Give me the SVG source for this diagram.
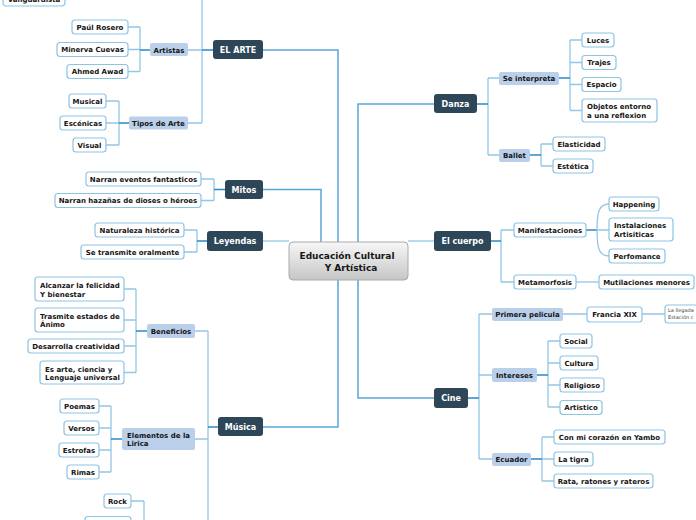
<svg xmlns="http://www.w3.org/2000/svg" width="696" height="520" viewBox="0 0 696 520">
<defs>
<linearGradient id="cg" x1="0" y1="0" x2="0" y2="1"><stop offset="0" stop-color="#f7f7f7"/><stop offset="1" stop-color="#c6c6c6"/></linearGradient>
</defs>
<style>
text{font-family:"DejaVu Sans","Verdana",sans-serif;font-weight:bold;fill:#151515}
.m rect{fill:#2d4759}
.m text{fill:#fff;font-size:8px;text-anchor:middle}
.s rect{fill:#bacfe9}
.s text{font-size:7px;text-anchor:middle}
.l rect{fill:#fff;stroke:#8ec4e3;stroke-width:1.2}
.l text{font-size:7px;text-anchor:middle}
.ml text{text-anchor:start}
.c path{fill:none;stroke:#93c6e5;stroke-width:1.3}
.c path.d{stroke:#2a88c8;stroke-width:1.5}
.c path.t{stroke:#5aa6d8;stroke-width:1.5}
</style>
<rect width="696" height="520" fill="#fff"/>
<g id="connectors" class="c">
<path class="t" d="M263,189.5 H321 V242"/>
<path class="t" d="M263,50 H338 V242"/>
<path d="M263,241 H289"/>
<path class="t" d="M338,280 V427 H263"/>
<path class="t" d="M358,242 V104 H434"/>
<path d="M408,241 H434"/>
<path class="t" d="M358,280 V398 H434"/>
<path d="M202,0 V123 M188,50 H202 M188,123 H202"/>
<path class="d" d="M202,50 H213"/>
<path d="M140,27 V71.5 M128,27 H140 M128,49.5 H140 M128,71.5 H140"/>
<path class="d" d="M140,50 H150"/>
<path d="M119,101 V145 M106,101 H119 M106,123 H119 M106,145 H119"/>
<path class="d" d="M119,123 H129"/>
<path d="M214,179 V200.5 M201,179 H214 M201,200.5 H214"/>
<path class="d" d="M214,189.5 H225"/>
<path d="M197,230 V252 M184,230 H197 M184,252 H197"/>
<path class="d" d="M197,241 H207"/>
<path d="M208,331 V520 M195,331 H208 M195,439 H208"/>
<path class="d" d="M208,427 H218"/>
<path d="M136,289 V372.5 M124,289 H136 M124,320 H136 M124,346 H136 M124,372.5 H136"/>
<path class="d" d="M136,331 H147"/>
<path d="M111,406 V472 M99,406 H111 M99,428 H111 M99,450 H111 M99,472 H111"/>
<path class="d" d="M111,439 H122"/>
<path d="M144,501 V520 M131,501 H144"/>
<path d="M488,78 V155 M488,78 H499 M488,155 H499"/>
<path class="d" d="M477,104 H488"/>
<path d="M570,40 V110.5 M570,40 H582 M570,62.5 H582 M570,84.5 H582 M570,110.5 H582"/>
<path class="d" d="M559,78 H570"/>
<path d="M541,144 V166 M541,144 H553 M541,166 H553"/>
<path class="d" d="M530,155 H541"/>
<path d="M501,230 V282 M501,230 H514 M501,282 H514"/>
<path class="d" d="M491,241 H501"/>
<path class="d" d="M586,230 H597"/>
<path d="M597,230 C597,212 599,204 609,204 M597,230 H609 M597,230 C597,248 599,256 609,256"/>
<path d="M576,282 H599"/>
<path d="M479,314 V459 M479,314 H492 M479,375 H492 M479,459 H492"/>
<path class="d" d="M468,398 H479"/>
<path d="M563,314 H587 M642,314 H665"/>
<path d="M548,341 V407 M548,341 H560 M548,363 H560 M548,385 H560 M548,407 H560"/>
<path class="d" d="M537,375 H548"/>
<path d="M542,437 V481 M542,437 H554 M542,459 H554 M542,481 H554"/>
<path class="d" d="M531,459 H542"/>
</g>
<g id="center"><rect x="289" y="242" width="119" height="38" rx="4" fill="url(#cg)" stroke="#aaaaaa"/><text x="347" y="259" font-size="9" text-anchor="middle">Educación Cultural</text><text x="351" y="271" font-size="9" text-anchor="middle">Y Artística</text></g>
<g id="elarte" class="m"><rect x="213" y="40" width="50" height="19" rx="3"/><text x="238" y="53">EL ARTE</text></g>
<g id="mitos" class="m"><rect x="225" y="180" width="38" height="19" rx="3"/><text x="244" y="193">Mitos</text></g>
<g id="leyendas" class="m"><rect x="207" y="231" width="56" height="20" rx="3"/><text x="235" y="244">Leyendas</text></g>
<g id="musica" class="m"><rect x="218" y="417" width="45" height="19" rx="3"/><text x="240.5" y="430">Música</text></g>
<g id="danza" class="m"><rect x="434" y="94" width="43" height="19" rx="3"/><text x="455.5" y="107">Danza</text></g>
<g id="elcuerpo" class="m"><rect x="434" y="231" width="57" height="20" rx="3"/><text x="462.5" y="244">El cuerpo</text></g>
<g id="cine" class="m"><rect x="434" y="388" width="34" height="20" rx="3"/><text x="451" y="401">Cine</text></g>
<g id="artistas" class="s"><rect x="150" y="43" width="38" height="13" rx="2"/><text x="169" y="52.5">Artistas</text></g>
<g id="tipos" class="s"><rect x="129" y="116.5" width="59" height="13" rx="2"/><text x="158.5" y="125.5">Tipos de Arte</text></g>
<g id="beneficios" class="s"><rect x="147" y="324" width="48" height="14" rx="2"/><text x="171" y="333.5">Beneficios</text></g>
<g id="elementos" class="s ml"><rect x="122" y="428" width="73" height="22" rx="2"/><text x="127" y="438">Elementos de la</text><text x="127" y="446">Lirica</text></g>
<g id="seinterpreta" class="s"><rect x="499" y="72" width="60" height="13" rx="2"/><text x="529" y="81">Se interpreta</text></g>
<g id="ballet" class="s"><rect x="499" y="149" width="31" height="13" rx="2"/><text x="514.5" y="158">Ballet</text></g>
<g id="primera" class="s"><rect x="492" y="308" width="71" height="13" rx="2"/><text x="527.5" y="317">Primera pelicula</text></g>
<g id="intereses" class="s"><rect x="492" y="368" width="45" height="14" rx="2"/><text x="514.5" y="377.5">Intereses</text></g>
<g id="ecuador" class="s"><rect x="492" y="453" width="39" height="13" rx="2"/><text x="511.5" y="462">Ecuador</text></g>
<g id="manif" class="l"><rect x="514" y="223" width="72" height="14" rx="3"/><text x="550" y="232.5">Manifestaciones</text></g>
<g id="metam" class="l"><rect x="514" y="275" width="62" height="14" rx="3"/><text x="545" y="284.5">Metamorfosis</text></g>
<g id="vanguardista" class="l"><rect x="3" y="-8" width="62" height="14" rx="3"/><text x="34" y="2">Vanguardista</text></g>
<g id="paul" class="l"><rect x="72" y="20" width="56" height="14" rx="3"/><text x="100" y="29.5">Paúl Rosero</text></g>
<g id="minerva" class="l"><rect x="57" y="42.5" width="71" height="14" rx="3"/><text x="92.5" y="52">Minerva Cuevas</text></g>
<g id="ahmed" class="l"><rect x="67" y="64.5" width="61" height="14" rx="3"/><text x="97.5" y="74">Ahmed Awad</text></g>
<g id="musical" class="l"><rect x="69" y="94" width="37" height="14" rx="3"/><text x="87.5" y="103.5">Musical</text></g>
<g id="escenicas" class="l"><rect x="60" y="116" width="46" height="14" rx="3"/><text x="83" y="125.5">Escénicas</text></g>
<g id="visual" class="l"><rect x="73" y="138" width="33" height="14" rx="3"/><text x="89.5" y="147.5">Visual</text></g>
<g id="narran1" class="l"><rect x="86" y="172" width="115" height="14" rx="3"/><text x="143.5" y="181.5">Narran eventos fantasticos</text></g>
<g id="narran2" class="l"><rect x="55" y="193.5" width="146" height="14" rx="3"/><text x="128" y="203">Narran hazañas de dioses o héroes</text></g>
<g id="naturaleza" class="l"><rect x="95" y="223" width="89" height="14" rx="3"/><text x="139.5" y="232.5">Naturaleza histórica</text></g>
<g id="transmite" class="l"><rect x="81" y="245" width="103" height="14" rx="3"/><text x="132.5" y="254.5">Se transmite oralmente</text></g>
<g id="alcanzar" class="l ml"><rect x="35" y="277" width="89" height="24" rx="3"/><text x="40" y="288">Alcanzar la felicidad</text><text x="40" y="296.5">Y bienestar</text></g>
<g id="trasmite" class="l ml"><rect x="35" y="308" width="89" height="24" rx="3"/><text x="40" y="318.5">Trasmite estados de</text><text x="40" y="327">Ánimo</text></g>
<g id="desarrolla" class="l"><rect x="28" y="339" width="96" height="14" rx="3"/><text x="76" y="348.5">Desarrolla creatividad</text></g>
<g id="esarte" class="l ml"><rect x="40" y="361" width="84" height="23" rx="3"/><text x="45" y="371.5">Es arte, ciencia y</text><text x="45" y="379.5">Lenguaje universal</text></g>
<g id="poemas" class="l"><rect x="60" y="399" width="39" height="14" rx="3"/><text x="79.5" y="408.5">Poemas</text></g>
<g id="versos" class="l"><rect x="64" y="421" width="35" height="14" rx="3"/><text x="81.5" y="430.5">Versos</text></g>
<g id="estrofas" class="l"><rect x="59" y="443" width="40" height="14" rx="3"/><text x="79" y="452.5">Estrofas</text></g>
<g id="rimas" class="l"><rect x="67" y="465" width="32" height="14" rx="3"/><text x="83" y="474.5">Rimas</text></g>
<g id="rock" class="l"><rect x="104" y="494" width="27" height="14" rx="3"/><text x="117.5" y="503.5">Rock</text></g>
<g id="genre2" class="l"><rect x="85" y="516.5" width="46" height="14" rx="3"/></g>
<g id="luces" class="l"><rect x="582" y="33" width="32" height="14" rx="3"/><text x="598" y="42.5">Luces</text></g>
<g id="trajes" class="l"><rect x="582" y="55.5" width="34" height="14" rx="3"/><text x="599" y="65">Trajes</text></g>
<g id="espacio" class="l"><rect x="582" y="77.5" width="39" height="14" rx="3"/><text x="601.5" y="87">Espacio</text></g>
<g id="objetos" class="l ml"><rect x="582" y="99" width="75" height="23" rx="3"/><text x="587" y="109">Objetos entorno</text><text x="587" y="118">a una reflexion</text></g>
<g id="elasticidad" class="l"><rect x="553" y="137" width="52" height="14" rx="3"/><text x="579" y="146.5">Elasticidad</text></g>
<g id="estetica" class="l"><rect x="553" y="159" width="40" height="14" rx="3"/><text x="573" y="168.5">Estética</text></g>
<g id="happening" class="l"><rect x="609" y="197" width="50" height="14" rx="3"/><text x="634" y="206.5">Happening</text></g>
<g id="instalaciones" class="l ml"><rect x="609" y="218" width="64" height="23" rx="3"/><text x="614" y="228">Instalaciones</text><text x="614" y="236.5">Artisiticas</text></g>
<g id="perfomance" class="l"><rect x="609" y="249" width="56" height="14" rx="3"/><text x="637" y="258.5">Perfomance</text></g>
<g id="mutilaciones" class="l"><rect x="599" y="275" width="95" height="14" rx="3"/><text x="646.5" y="284.5">Mutilaciones menores</text></g>
<g id="francia" class="l"><rect x="587" y="307" width="55" height="15" rx="3"/><text x="614.5" y="317">Francia XIX</text></g>
<g id="llegada" class="l"><rect x="665" y="305" width="40" height="18" rx="3"/><text x="668" y="312" style="font-size:5px;font-weight:normal;fill:#444;text-anchor:start">La llegada</text><text x="668" y="318.5" style="font-size:5px;font-weight:normal;fill:#444;text-anchor:start">Estación c</text></g>
<g id="social" class="l"><rect x="560" y="334" width="32" height="14" rx="3"/><text x="576" y="343.5">Social</text></g>
<g id="cultura" class="l"><rect x="560" y="356" width="38" height="14" rx="3"/><text x="579" y="365.5">Cultura</text></g>
<g id="religioso" class="l"><rect x="560" y="378" width="44" height="14" rx="3"/><text x="582" y="387.5">Religioso</text></g>
<g id="artistico" class="l"><rect x="560" y="400.5" width="42" height="14" rx="3"/><text x="581" y="410">Artistico</text></g>
<g id="yambo" class="l"><rect x="554" y="430" width="111" height="14" rx="3"/><text x="609.5" y="439.5">Con mi corazón en Yambo</text></g>
<g id="tigra" class="l"><rect x="554" y="452" width="39" height="14" rx="3"/><text x="573.5" y="461.5">La tigra</text></g>
<g id="rata" class="l"><rect x="554" y="474" width="99" height="14" rx="3"/><text x="603.5" y="483.5">Rata, ratones y rateros</text></g>
</svg>
